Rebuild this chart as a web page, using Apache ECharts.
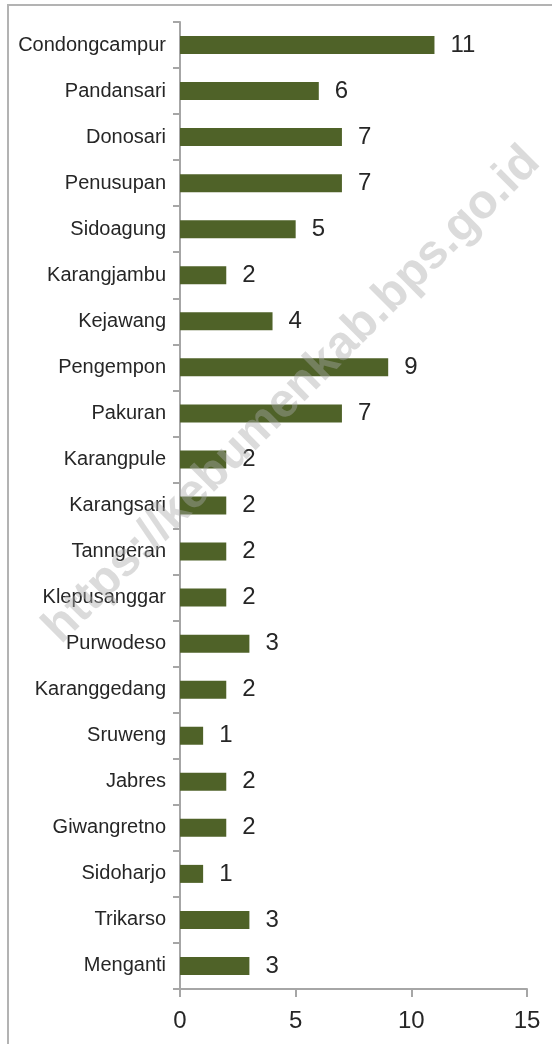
<!DOCTYPE html>
<html>
<head>
<meta charset="utf-8">
<script src="https://cdn.jsdelivr.net/npm/echarts@6/dist/echarts.min.js"></script>
<style>
  html, body { margin: 0; padding: 0; background: #fff; }
  #chart { width: 552px; height: 1044px; }
</style>
</head>
<body>
<div id="chart"></div>
<script>
// desa / kelurahan, dari atas ke bawah
var villages = ['Condongcampur', 'Pandansari', 'Donosari', 'Penusupan', 'Sidoagung', 'Karangjambu',
  'Kejawang', 'Pengempon', 'Pakuran', 'Karangpule', 'Karangsari', 'Tanngeran', 'Klepusanggar',
  'Purwodeso', 'Karanggedang', 'Sruweng', 'Jabres', 'Giwangretno', 'Sidoharjo', 'Trikarso', 'Menganti'];
var counts = [11, 6, 7, 7, 5, 2, 4, 9, 7, 2, 2, 2, 2, 3, 2, 1, 2, 2, 1, 3, 3];
var xTicks = [0, 5, 10, 15];

var fontName = 'Liberation Sans';
var axisGray = '#A6A6A6';

var myChart = echarts.init(document.getElementById('chart'));

var option = {
  animation: false,
  backgroundColor: '#fff',
  grid: { left: 180, right: 25, top: 22, bottom: 55, containLabel: false },
  xAxis: {
    type: 'value',
    min: xTicks[0],
    max: xTicks[xTicks.length - 1],
    interval: xTicks[1] - xTicks[0],
    splitLine: { show: false },
    axisLine: { show: true, lineStyle: { color: axisGray, width: 2 } },
    axisTick: { show: true, length: 8, lineStyle: { color: axisGray, width: 2 } },
    axisLabel: { color: '#262626', fontSize: 24, fontFamily: fontName, margin: 20 }
  },
  yAxis: {
    type: 'category',
    data: villages,
    inverse: true,
    axisLine: { show: true, lineStyle: { color: axisGray, width: 2 } },
    axisTick: { show: true, length: 7, lineStyle: { color: axisGray, width: 2 } },
    axisLabel: { color: '#262626', fontSize: 20, fontFamily: fontName, margin: 14 }
  },
  series: [{
    type: 'bar',
    data: counts,
    barWidth: 18,
    itemStyle: { color: '#4F6228' },
    label: {
      show: true,
      position: 'right',
      distance: 16,
      color: '#262626',
      fontSize: 24,
      fontFamily: fontName
    }
  }],
  graphic: [
    {
      type: 'rect',
      shape: { x: 8, y: 5, width: 600, height: 1100 },
      style: { fill: 'none', stroke: '#B3B3B3', lineWidth: 2 },
      z: 0
    },
    {
      // watermark
      type: 'text',
      x: 292,
      y: 395,
      rotation: Math.PI / 4,
      style: {
        text: 'https://kebumenkab.bps.go.id',
        fontSize: 48,
        fontWeight: 'bold',
        fontFamily: fontName,
        fill: 'rgba(170,170,170,0.42)',
        align: 'center',
        verticalAlign: 'middle'
      },
      z: 100
    }
  ]
};

myChart.setOption(option);
</script>
</body>
</html>
